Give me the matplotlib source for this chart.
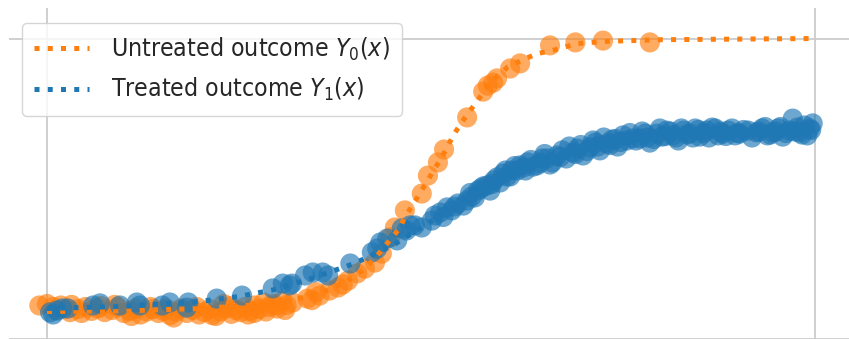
import matplotlib
matplotlib.use("Agg")
import matplotlib.pyplot as plt
from matplotlib.font_manager import FontProperties

plt.rcParams["mathtext.fontset"] = "custom"
plt.rcParams["mathtext.it"] = "DejaVu Sans:italic:stretch=condensed"
plt.rcParams["mathtext.rm"] = "DejaVu Sans:stretch=condensed"

# Smooth outcome curves
y0_curve_x = [0.0, 0.1, 0.2, 0.26, 0.3, 0.33, 0.36, 0.39, 0.41, 0.427, 0.4375, 0.448,
              0.46, 0.466, 0.477, 0.486, 0.495, 0.503, 0.514, 0.529, 0.538, 0.548,
              0.559, 0.577, 0.599, 0.62, 0.639, 0.658, 0.69, 0.724, 0.76, 0.8, 0.9, 1.0]
y0_curve_y = [0.09, 0.092, 0.10, 0.11, 0.12, 0.135, 0.155, 0.19, 0.225, 0.267, 0.30, 0.333,
              0.37, 0.407, 0.447, 0.487, 0.523, 0.56, 0.603, 0.677, 0.713, 0.75,
              0.787, 0.853, 0.903, 0.93, 0.95, 0.96, 0.983, 0.99, 0.993, 0.996, 0.998, 1.0]

y1_curve_x = [0.0, 0.1, 0.2, 0.25, 0.3, 0.35, 0.4, 0.45, 0.5, 0.55, 0.6, 0.65,
              0.7, 0.75, 0.8, 0.85, 0.9, 0.95, 1.0]
y1_curve_y = [0.10, 0.107, 0.124, 0.14, 0.165, 0.205, 0.25, 0.31, 0.39, 0.47, 0.54, 0.59,
              0.63, 0.655, 0.675, 0.69, 0.695, 0.70, 0.705]

# Observed untreated units
untreated_x = [-0.01, 0.0, 0.008, 0.018, 0.025, 0.032, 0.04, 0.05, 0.058, 0.066, 0.075,
               0.085, 0.092, 0.10, 0.108, 0.115, 0.122, 0.13, 0.138, 0.145, 0.152,
               0.16, 0.168, 0.175, 0.182, 0.19, 0.198, 0.205, 0.212, 0.22, 0.226,
               0.233, 0.24, 0.246, 0.252, 0.258, 0.264, 0.27, 0.276, 0.282, 0.288,
               0.294, 0.30, 0.306, 0.312, 0.32, 0.339, 0.345, 0.355, 0.368, 0.379,
               0.392, 0.404, 0.414, 0.427, 0.436, 0.447, 0.453, 0.466, 0.488, 0.496,
               0.509, 0.517, 0.547, 0.568, 0.574, 0.581, 0.586, 0.603, 0.616, 0.655,
               0.688, 0.724, 0.785,
               0.012, 0.045, 0.07, 0.11, 0.135, 0.165, 0.195, 0.215, 0.238, 0.262,
               0.285, 0.31, 0.03, 0.088, 0.155, 0.23, 0.27, 0.298, 0.35, 0.385]
untreated_y = [0.11, 0.115, 0.105, 0.11, 0.10, 0.112, 0.098, 0.105, 0.092, 0.10, 0.088,
               0.095, 0.105, 0.085, 0.092, 0.10, 0.08, 0.09, 0.098, 0.085, 0.092,
               0.078, 0.09, 0.10, 0.085, 0.095, 0.08, 0.088, 0.098, 0.075, 0.09,
               0.10, 0.082, 0.095, 0.088, 0.105, 0.092, 0.11, 0.098, 0.12, 0.105,
               0.115, 0.10, 0.125, 0.112, 0.12, 0.133, 0.128, 0.143, 0.16, 0.17,
               0.193, 0.217, 0.233, 0.253, 0.283, 0.337, 0.37, 0.427, 0.483, 0.543,
               0.587, 0.63, 0.737, 0.823, 0.843, 0.853, 0.867, 0.90, 0.917, 0.977,
               0.987, 0.993, 0.987,
               0.095, 0.085, 0.108, 0.075, 0.105, 0.07, 0.105, 0.078, 0.108, 0.08,
               0.09, 0.095, 0.088, 0.112, 0.1, 0.115, 0.085, 0.11, 0.155, 0.18]

# Observed treated units
treated_x = [0.004, 0.013, 0.020, 0.027, 0.060, 0.069, 0.095, 0.117, 0.121, 0.150,
             0.160, 0.184, 0.182, 0.221, 0.254, 0.294, 0.307, 0.316, 0.319, 0.336,
             0.346, 0.359, 0.366, 0.395, 0.423, 0.434, 0.443, 0.456, 0.462, 0.473,
             0.479, 0.488, 0.501, 0.512, 0.521, 0.527, 0.535, 0.542, 0.547, 0.553,
             0.561, 0.568, 0.573, 0.577, 0.582, 0.586, 0.590, 0.594, 0.599, 0.605,
             0.612, 0.616, 0.620, 0.626, 0.633, 0.638, 0.645, 0.651, 0.658, 0.664,
             0.671, 0.676, 0.685, 0.691, 0.698, 0.707, 0.714, 0.720, 0.729, 0.736,
             0.743, 0.750, 0.755, 0.763, 0.772, 0.779, 0.785, 0.794, 0.801, 0.807,
             0.815, 0.822, 0.829, 0.837, 0.844, 0.850, 0.859, 0.866, 0.874, 0.880,
             0.887, 0.896, 0.902, 0.913, 0.924, 0.931, 0.938, 0.945, 0.952, 0.958,
             0.967, 0.971, 0.977, 0.980, 0.986, 0.990, 0.993, 0.997,
             0.008, 0.43, 0.468, 0.505, 0.516, 0.531, 0.551, 0.557, 0.565, 0.579,
             0.597, 0.603, 0.609, 0.623, 0.63, 0.642, 0.648, 0.655, 0.668, 0.68,
             0.688, 0.695, 0.703, 0.711, 0.717, 0.725, 0.733, 0.74, 0.747, 0.759,
             0.767, 0.775, 0.782, 0.79, 0.798, 0.805, 0.812, 0.819, 0.826, 0.833,
             0.841, 0.848, 0.855, 0.862, 0.87, 0.877, 0.884, 0.892, 0.899, 0.907,
             0.918, 0.927, 0.935, 0.942, 0.949, 0.955, 0.962, 0.974, 0.983, 0.995]
treated_y = [0.087, 0.093, 0.100, 0.100, 0.110, 0.117, 0.110, 0.120, 0.110, 0.110,
             0.120, 0.120, 0.103, 0.133, 0.143, 0.167, 0.183, 0.177, 0.183, 0.210,
             0.220, 0.220, 0.210, 0.250, 0.287, 0.320, 0.333, 0.327, 0.367, 0.377,
             0.377, 0.370, 0.393, 0.420, 0.437, 0.427, 0.450, 0.443, 0.460, 0.473,
             0.493, 0.507, 0.510, 0.493, 0.527, 0.537, 0.520, 0.550, 0.540, 0.560,
             0.560, 0.577, 0.570, 0.587, 0.573, 0.577, 0.600, 0.600, 0.587, 0.610,
             0.627, 0.600, 0.620, 0.633, 0.610, 0.637, 0.653, 0.627, 0.650, 0.663,
             0.640, 0.677, 0.660, 0.667, 0.667, 0.683, 0.653, 0.683, 0.673, 0.693,
             0.677, 0.660, 0.693, 0.683, 0.700, 0.673, 0.693, 0.703, 0.677, 0.683,
             0.693, 0.677, 0.683, 0.693, 0.687, 0.700, 0.677, 0.687, 0.700, 0.673,
             0.693, 0.733, 0.703, 0.687, 0.710, 0.677, 0.700, 0.717,
             0.080, 0.300, 0.360, 0.410, 0.405, 0.440, 0.485, 0.470, 0.500, 0.515,
             0.560, 0.540, 0.575, 0.560, 0.595, 0.585, 0.615, 0.580, 0.605, 0.640,
             0.615, 0.645, 0.625, 0.660, 0.640, 0.670, 0.645, 0.665, 0.655, 0.685,
             0.660, 0.690, 0.670, 0.665, 0.700, 0.675, 0.690, 0.670, 0.700, 0.680,
             0.670, 0.695, 0.685, 0.670, 0.700, 0.690, 0.675, 0.700, 0.685, 0.695,
             0.670, 0.690, 0.705, 0.680, 0.690, 0.705, 0.685, 0.690, 0.680, 0.695]

labels = [r"Untreated outcome $Y_0(x)$", r"Treated outcome $Y_1(x)$"]

BLUE = "#1f77b4"
ORANGE = "#ff7f0e"
TEXT = "#262626"
GRID = "#cccccc"

W, H, DPI = 849, 339, 100
fig = plt.figure(figsize=(W / DPI, H / DPI), dpi=DPI)

# axes placed in pixel units, lower edge just below the canvas
left_px, right_px, top_px, bottom_px = 8.6, 853.4, 8.0, 345.0
ax = fig.add_axes([left_px / W, (H - bottom_px) / H,
                   (right_px - left_px) / W, (bottom_px - top_px) / H])
ax.set_xlim(-0.05, 1.05)
y_of_px = lambda p: (338.5 - p) / 300.0
ax.set_ylim(y_of_px(bottom_px), y_of_px(top_px))

ax.set_xticks([0.0, 1.0])
ax.set_yticks([0.0, 1.0])
ax.tick_params(length=0, labelbottom=False, labelleft=False)
ax.grid(True, color=GRID, linewidth=1.3)
ax.set_axisbelow(True)
for s in ax.spines.values():
    s.set_visible(False)

ax.scatter(untreated_x, untreated_y, s=210, color=ORANGE, alpha=0.65,
           edgecolors="none", zorder=2)
ax.scatter(treated_x, treated_y, s=210, color=BLUE, alpha=0.65,
           edgecolors="none", zorder=2)

ax.plot(y0_curve_x, y0_curve_y, linestyle=":", color=ORANGE, linewidth=3.6,
        label=labels[0], zorder=3)
ax.plot(y1_curve_x, y1_curve_y, linestyle=":", color=BLUE, linewidth=3.6,
        label=labels[1], zorder=3)

prop = FontProperties(family="DejaVu Sans", stretch="condensed", size=17.8)
leg = ax.legend(loc="upper left", bbox_to_anchor=(22 / W, 1 - 23 / H),
                bbox_transform=fig.transFigure, prop=prop, frameon=True,
                fancybox=True, borderaxespad=0.0, handlelength=2.2,
                handletextpad=0.9, labelspacing=0.55, borderpad=0.5)
leg.get_frame().set_edgecolor(GRID)
leg.get_frame().set_linewidth(1.0)
for t in leg.get_texts():
    t.set_color(TEXT)

fig.savefig("out.png", dpi=DPI)
